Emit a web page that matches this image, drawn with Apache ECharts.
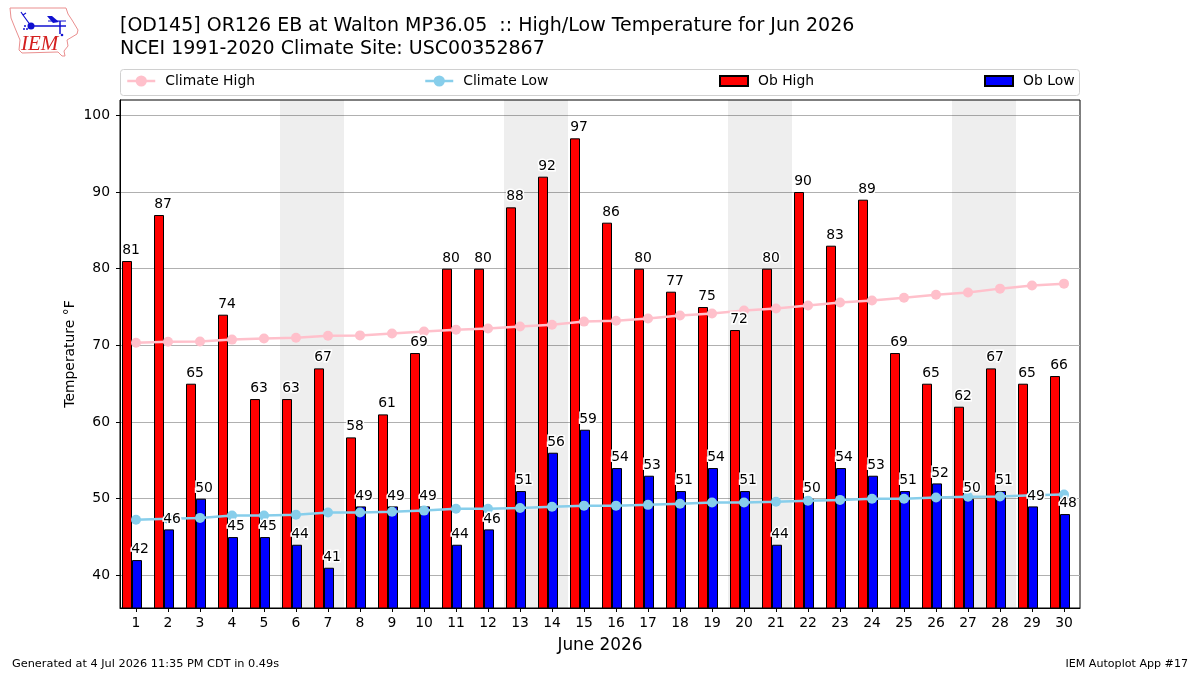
<!DOCTYPE html>
<html>
<head>
<meta charset="utf-8">
<title>High/Low Temperature for Jun 2026</title>
<script src="https://cdn.jsdelivr.net/npm/echarts@6/dist/echarts.min.js"></script>
<style>
  html, body { margin: 0; padding: 0; background: #fff; }
  #chart { width: 1200px; height: 675px; }
</style>
</head>
<body>
<div id="chart"></div>
<script>
// Days of the month
const days = ['1','2','3','4','5','6','7','8','9','10','11','12','13','14','15',
              '16','17','18','19','20','21','22','23','24','25','26','27','28','29','30'];

// Observed daily extremes, degrees F
const obHigh = [81,87,65,74,63,63,67,58,61,69,80,80,88,92,97,86,80,77,75,72,80,90,83,89,69,65,62,67,65,66];
const obLow  = [42,46,50,45,45,44,41,49,49,49,44,46,51,56,59,54,53,51,54,51,44,50,54,53,51,52,50,51,49,48];

// 1991-2020 daily climatology, degrees F
const climateHigh = [70.35,70.48,70.5,70.75,70.9,71.0,71.25,71.3,71.55,71.8,72.05,72.2,72.45,72.7,73.1,
                     73.2,73.5,73.9,74.15,74.55,74.8,75.2,75.6,75.85,76.2,76.6,76.9,77.4,77.8,78.05];
const climateLow  = [47.25,47.4,47.5,47.8,47.8,47.9,48.2,48.2,48.3,48.45,48.7,48.7,48.8,48.95,49.1,
                     49.1,49.2,49.35,49.5,49.5,49.6,49.75,49.85,50.0,50.0,50.15,50.25,50.3,50.45,50.55];

// Temperature ticks
const tempTicks = [40,50,60,70,80,90,100];

// Weekends, as first and last day of each
const weekends = [[6,7],[13,14],[20,21],[27,28]];

const FONT = '"DejaVu Sans", sans-serif';
const chart = echarts.init(document.getElementById('chart'), null, { renderer: 'canvas' });

// Value labels ride on invisible points so they stay above the climate lines
const valueLabels = (name, values, dx) => ({
  name: name,
  type: 'scatter',
  data: values,
  z: 6,
  silent: true,
  symbol: 'circle',
  symbolSize: 1,
  itemStyle: { color: 'rgba(0,0,0,0)', opacity: 1 },
  label: {
    show: true,
    position: 'top',
    distance: 3,
    offset: [dx, 0],
    color: '#000',
    fontFamily: FONT,
    fontSize: 13.9,
    textBorderColor: '#fff',
    textBorderWidth: 3
  }
});

const legendBase = {
  orient: 'horizontal',
  padding: 0,
  top: 74,
  itemWidth: 28,
  textStyle: { fontFamily: FONT, fontSize: 13.9, color: '#000', padding: [2, 0, 0, 5] }
};
const lineLegend = Object.assign({}, legendBase, { itemHeight: 14, lineStyle: { width: 2.5 } });
const barLegend = Object.assign({}, legendBase, { itemHeight: 10 });

chart.setOption({
  animation: false,
  backgroundColor: '#fff',
  textStyle: { fontFamily: FONT },
  title: [
    {
      text: '[OD145] OR126 EB at Walton MP36.05  :: High/Low Temperature for Jun 2026\nNCEI 1991-2020 Climate Site: USC00352867',
      left: 120, top: 15, padding: 0,
      textStyle: { fontFamily: FONT, fontSize: 19, fontWeight: 'normal', color: '#000', lineHeight: 23 }
    },
    {
      text: 'Generated at 4 Jul 2026 11:35 PM CDT in 0.49s',
      left: 12, top: 659, padding: 0,
      textStyle: { fontFamily: FONT, fontSize: 11.3, fontWeight: 'normal', color: '#000' }
    },
    {
      text: 'IEM Autoplot App #17',
      right: 12, top: 659, padding: 0,
      textStyle: { fontFamily: FONT, fontSize: 11.1, fontWeight: 'normal', color: '#000' }
    }
  ],
  legend: [
    Object.assign({}, lineLegend, { left: 126, data: ['Climate High'] }),
    Object.assign({}, lineLegend, { left: 424, data: ['Climate Low'] }),
    Object.assign({}, barLegend, { left: 719, data: [{ name: 'Ob High', icon: 'rect' }] }),
    Object.assign({}, barLegend, { left: 984, data: [{ name: 'Ob Low', icon: 'rect' }] })
  ],
  grid: {
    left: 120, right: 120, top: 100, height: 508,
    show: true, borderColor: '#000', borderWidth: 1, backgroundColor: 'transparent',
    containLabel: false
  },
  xAxis: [
    {
      type: 'category',
      data: days,
      boundaryGap: true,
      name: 'June 2026',
      nameLocation: 'middle',
      nameGap: 29,
      nameMoveOverlap: false,
      nameTextStyle: { fontFamily: FONT, fontSize: 16.9, color: '#000' },
      axisLine: { show: true, lineStyle: { color: '#000', width: 1 } },
      axisTick: { show: true, alignWithLabel: true, length: 4, lineStyle: { color: '#000' } },
      axisLabel: { interval: 0, margin: 8, color: '#000', fontFamily: FONT, fontSize: 13.9 },
      splitLine: { show: false }
    },
    {
      // Continuous day scale behind the categories, so weekend bands can start between days
      type: 'value',
      show: false,
      min: 0.5,
      max: 30.5,
      position: 'bottom',
      splitLine: { show: false }
    }
  ],
  yAxis: {
    type: 'value',
    min: 35.75,
    max: 102,
    name: 'Temperature °F',
    nameLocation: 'middle',
    nameGap: 43,
    nameMoveOverlap: false,
    nameTextStyle: { fontFamily: FONT, fontSize: 13.9, color: '#000' },
    axisLine: { show: true, lineStyle: { color: '#000', width: 1 } },
    axisTick: { show: true, length: 4, customValues: tempTicks, lineStyle: { color: '#000' } },
    axisLabel: { customValues: tempTicks, margin: 10, color: '#000', fontFamily: FONT, fontSize: 13.9 },
    splitLine: { show: true, lineStyle: { color: '#b0b0b0', width: 1 } }
  },
  series: [
    {
      name: 'Weekends',
      type: 'line',
      xAxisIndex: 1,
      data: [],
      z: 1,
      silent: true,
      markArea: {
        silent: true,
        itemStyle: { color: 'rgba(0,0,0,0.067)' },
        data: weekends.map(w => [{ xAxis: w[0] - 0.5 }, { xAxis: w[1] + 0.5 }])
      }
    },
    {
      name: 'Ob High',
      type: 'bar',
      data: obHigh,
      barWidth: 10,
      barGap: 0,
      z: 3,
      itemStyle: { color: '#ff0000', borderColor: '#000', borderWidth: 1 }
    },
    {
      name: 'Ob Low',
      type: 'bar',
      data: obLow,
      barWidth: 10,
      barGap: 0,
      z: 3,
      itemStyle: { color: '#0000ff', borderColor: '#000', borderWidth: 1 }
    },
    {
      // Holds no bars: keeps the bar pair off-centre on each tick
      name: 'Bar offset',
      type: 'bar',
      data: [],
      barWidth: 8,
      barGap: 0,
      silent: true
    },
    {
      name: 'Climate High',
      type: 'line',
      data: climateHigh,
      z: 5,
      symbol: 'circle',
      symbolSize: 10,
      lineStyle: { color: '#ffc0cb', width: 2.5 },
      itemStyle: { color: '#ffc0cb' }
    },
    {
      name: 'Climate Low',
      type: 'line',
      data: climateLow,
      z: 5,
      symbol: 'circle',
      symbolSize: 10,
      lineStyle: { color: '#87ceeb', width: 2.5 },
      itemStyle: { color: '#87ceeb' }
    },
    valueLabels('High labels', obHigh, -5),
    valueLabels('Low labels', obLow, 4)
  ],
  graphic: [
    // Legend frame
    { type: 'rect', z: -1, shape: { x: 120.5, y: 69.5, width: 959, height: 26, r: 3 },
      style: { fill: '#fff', stroke: '#d0d0d0', lineWidth: 1 } },
    // Iowa outline of the IEM mark
    { type: 'polyline', z: 10, shape: { points: [[10,8],[66,8],[68,14],[72,20],[78,30],[77,34],[72,37],[67,40],[68,46],[64,51],[65,56],[62,56],[58,52],[22,53],[19,50],[20,40],[15,28],[11,18],[10,8]] },
      style: { fill: 'none', stroke: '#ea8f8f', lineWidth: 1 } },
    // Station-model glyph
    { type: 'polyline', z: 10, shape: { points: [[31,26],[66,26]] }, style: { fill: 'none', stroke: '#1010d0', lineWidth: 1.5 } },
    { type: 'polyline', z: 10, shape: { points: [[31,26],[23,15],[21,12]] }, style: { fill: 'none', stroke: '#1010d0', lineWidth: 1.2 } },
    { type: 'polyline', z: 10, shape: { points: [[23,15],[26,13]] }, style: { fill: 'none', stroke: '#1010d0', lineWidth: 1.2 } },
    { type: 'polyline', z: 10, shape: { points: [[48,21],[66,21]] }, style: { fill: 'none', stroke: '#1010d0', lineWidth: 1 } },
    { type: 'polyline', z: 10, shape: { points: [[60,21],[60,34]] }, style: { fill: 'none', stroke: '#1010d0', lineWidth: 1.5 } },
    { type: 'polygon', z: 10, shape: { points: [[47,16],[52,16],[59,22],[53,23]] }, style: { fill: '#1010d0' } },
    { type: 'circle', z: 10, shape: { cx: 31, cy: 26, r: 3.5 }, style: { fill: '#1010d0' } },
    { type: 'circle', z: 10, shape: { cx: 25, cy: 26, r: 1 }, style: { fill: '#1010d0' } },
    { type: 'circle', z: 10, shape: { cx: 24, cy: 29, r: 1 }, style: { fill: '#1010d0' } },
    { type: 'circle', z: 10, shape: { cx: 27, cy: 29, r: 1 }, style: { fill: '#1010d0' } },
    { type: 'circle', z: 10, shape: { cx: 62, cy: 35, r: 1.3 }, style: { fill: '#1010d0' } },
    { type: 'text', z: 10, x: 21, y: 34, style: { text: 'IEM', fill: '#d42020', font: 'italic 21px "Liberation Serif", serif' } }
  ]
});
</script>
</body>
</html>
